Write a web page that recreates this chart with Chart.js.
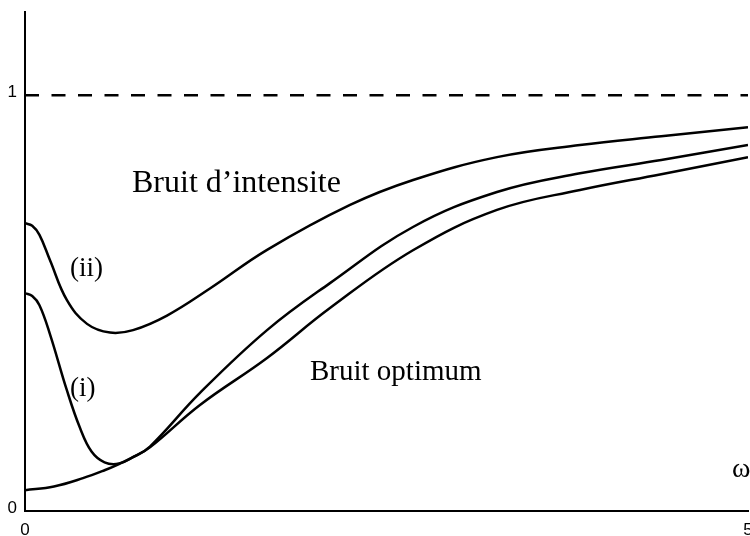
<!DOCTYPE html>
<html>
<head>
<meta charset="utf-8">
<script src="https://cdn.jsdelivr.net/npm/chart.js@4/dist/chart.umd.min.js"></script>
<style>
  html, body { margin: 0; padding: 0; background: #fff; }
  canvas { display: block; }
</style>
</head>
<body>
<canvas id="noiseChart" width="750" height="536"></canvas>
<script>
// values (omega, normalised noise)
const omegaII = [0, 0.05, 0.1, 0.173, 0.29, 0.429, 0.588, 0.747, 0.982, 1.279, 1.674, 2.248, 2.684, 3.264, 3.838, 4.4, 5.0];
const noiseII = [0.692, 0.686, 0.664, 0.603, 0.507, 0.450, 0.429, 0.435, 0.470, 0.535, 0.628, 0.736, 0.796, 0.851, 0.880, 0.901, 0.923];

const omegaI = [0, 0.05, 0.1, 0.173, 0.29, 0.38, 0.46, 0.55, 0.65, 0.75, 0.864, 1.21, 1.674, 2.109, 2.683, 3.264, 3.838, 4.4, 5.0];
const noiseI = [0.524, 0.517, 0.495, 0.425, 0.29, 0.2, 0.143, 0.117, 0.114, 0.13, 0.155, 0.284, 0.435, 0.548, 0.683, 0.767, 0.812, 0.844, 0.88];

const omegaOpt = [0, 0.2, 0.401, 0.55, 0.65, 0.75, 0.864, 1.21, 1.674, 2.109, 2.683, 3.264, 3.838, 4.4, 5.0];
const noiseOpt = [0.050, 0.059, 0.079, 0.098, 0.113, 0.13, 0.153, 0.255, 0.368, 0.488, 0.627, 0.724, 0.772, 0.81, 0.851];

const shotLevel = 1;
const xTicks = [0, 5];
const yTicks = [0, 1];

const toPoints = (xs, ys) => xs.map((x, i) => ({x: x, y: ys[i]}));

const curveStyle = {
    borderColor: '#000',
    borderWidth: 2.5,
    pointRadius: 0,
    fill: false,
    tension: 0.4
};

// text written on the figure
const annotations = {
    id: 'annotations',
    afterDraw(chart) {
        const c = chart.ctx;
        const xs = chart.scales.x, ys = chart.scales.y;
        const notes = [
            {text: 'Bruit d\u2019intensite', x: 0.74, y: 0.767, font: '32px "Liberation Serif"'},
            {text: 'Bruit optimum', x: 1.971, y: 0.315, font: '29px "Liberation Serif"'},
            {text: '(ii)', x: 0.311, y: 0.565, font: '27px "Liberation Serif"'},
            {text: '(i)', x: 0.311, y: 0.276, font: '27px "Liberation Serif"'},
            {text: '\u03c9', x: 4.889, y: 0.082, font: '28px "Liberation Serif"'}
        ];
        c.save();
        c.fillStyle = '#000';
        c.textAlign = 'left';
        c.textBaseline = 'alphabetic';
        notes.forEach(n => {
            c.font = n.font;
            c.fillText(n.text, xs.getPixelForValue(n.x), ys.getPixelForValue(n.y));
        });
        c.restore();
    }
};

const ctx = document.getElementById('noiseChart').getContext('2d');
const noiseChart = new Chart(ctx, {
    type: 'line',
    data: {
        datasets: [
            Object.assign({label: '(ii)', data: toPoints(omegaII, noiseII)}, curveStyle),
            Object.assign({label: '(i)', data: toPoints(omegaI, noiseI)}, curveStyle),
            Object.assign({label: 'Bruit optimum', data: toPoints(omegaOpt, noiseOpt)}, curveStyle),
            {
                label: 'Bruit d\u2019intensite',
                data: [{x: 0, y: shotLevel}, {x: 5, y: shotLevel}],
                borderColor: '#000',
                borderWidth: 2.5,
                borderDash: [14, 12.5],
                pointRadius: 0,
                fill: false
            }
        ]
    },
    options: {
        responsive: false,
        animation: false,
        layout: { padding: {left: 0, right: 2, top: 12, bottom: 0} },
        plugins: {
            legend: { display: false },
            tooltip: { enabled: false }
        },
        scales: {
            x: {
                type: 'linear',
                min: 0,
                max: 5,
                grid: { display: false, drawTicks: false },
                border: { display: true, color: '#000', width: 2 },
                afterBuildTicks: s => { s.ticks = xTicks.map(v => ({value: v})); },
                afterFit: s => { s.height = 25; s.paddingLeft = 0; s.paddingRight = 0; },
                ticks: {
                    color: '#000',
                    padding: 9,
                    maxRotation: 0,
                    autoSkip: false,
                    font: {family: '"Liberation Sans"', size: 17}
                }
            },
            y: {
                min: 0,
                max: 1.2,
                grid: { display: false, drawTicks: false },
                border: { display: true, color: '#000', width: 2 },
                afterBuildTicks: s => { s.ticks = yTicks.map(v => ({value: v})); },
                afterFit: s => { s.width = 25; s.paddingTop = 0; s.paddingBottom = 0; },
                ticks: {
                    color: '#000',
                    padding: 8,
                    labelOffset: -3,
                    autoSkip: false,
                    font: {family: '"Liberation Sans"', size: 17}
                }
            }
        }
    },
    plugins: [annotations]
});
</script>
</body>
</html>
